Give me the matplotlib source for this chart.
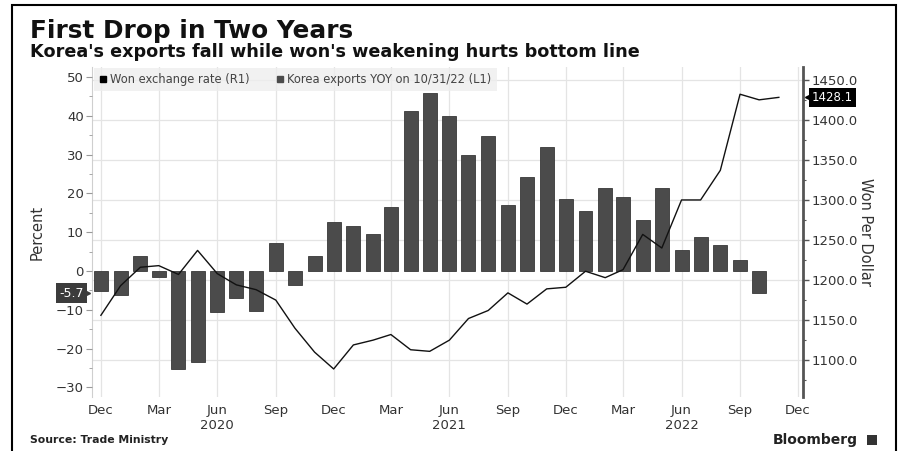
import matplotlib
matplotlib.use('Agg')
import matplotlib.pyplot as plt
from matplotlib.patches import Rectangle
from matplotlib.lines import Line2D
from matplotlib.ticker import MultipleLocator
from matplotlib.transforms import blended_transform_factory
import pandas as pd

# Korea exports YoY (%), monthly Dec 2019 - Oct 2022
exports_yoy = [-5.2,
               -6.1, 3.9, -1.6, -25.3, -23.5, -10.6, -6.9, -10.3, 7.3, -3.6, 3.9, 12.5,
               11.6, 9.5, 16.4, 41.3, 45.8, 40.0, 29.9, 34.9, 17.0, 24.3, 31.9, 18.6,
               15.5, 21.4, 19.1, 13.1, 21.5, 5.4, 8.8, 6.7, 2.8, -5.7]
# Won per dollar, monthly Dec 2019 - Nov 2022
won_rate = [1156,
            1193, 1216, 1218, 1207, 1237, 1208, 1194, 1188, 1175, 1140, 1110, 1089,
            1119, 1125, 1132, 1113, 1111, 1125, 1152, 1162, 1184, 1170, 1189, 1191,
            1211, 1203, 1213, 1257, 1240, 1300, 1300, 1337, 1432, 1425, 1428.1]
bar_dates = pd.date_range('2019-12-01', periods=len(exports_yoy), freq='MS')
line_dates = pd.date_range('2019-12-01', periods=len(won_rate), freq='MS')
tick_dates = pd.date_range('2019-12-01', '2022-12-01', freq='3MS')
pct_ticks = [-30, -20, -10, 0, 10, 20, 30, 40, 50]
won_ticks = [1100, 1150, 1200, 1250, 1300, 1350, 1400, 1450]

W, H = 899, 451
fig = plt.figure(figsize=(W / 100, H / 100), dpi=100)
fig.patch.set_facecolor('white')

txt = '#333333'
grid_c = '#e4e4e4'

# base axes: won scale + grid (pixels x 92..803, y 67..397)
ax = fig.add_axes([92 / W, 1 - 397 / H, (803 - 92) / W, (397 - 67) / H])
axp = ax.twinx()   # bars, percent on the left
axl = ax.twinx()   # line on top

ax.yaxis.tick_right()
ax.yaxis.set_label_position('right')
ax.set_ylim(1054, 1466)
ax.set_xlim(pd.Timestamp('2019-11-17'), pd.Timestamp('2022-12-09'))
ax.set_yticks(won_ticks)
ax.set_yticklabels([f'{v:.1f}' for v in won_ticks])
ax.yaxis.set_minor_locator(MultipleLocator(25))
ax.grid(True, axis='both', color=grid_c, lw=0.9)
ax.set_axisbelow(True)
ax.tick_params(axis='y', which='both', direction='out', colors='#555555', labelcolor=txt,
               labelsize=9.5, pad=2)
ax.tick_params(axis='y', which='major', length=4, width=1)
ax.tick_params(axis='y', which='minor', length=2.5, width=0.8)
ax.set_ylabel('Won Per Dollar', rotation=-90, labelpad=11, fontsize=10.5, color=txt)
for s in ['top', 'bottom']:
    ax.spines[s].set_visible(False)
ax.spines['left'].set_color('#cfcfcf')
ax.spines['right'].set_color('#555555')
ax.spines['right'].set_linewidth(2)

ax.set_xticks(tick_dates)
labels = []
for d in tick_dates:
    lab = d.strftime('%b')
    if d.month == 6:
        lab += '\n' + str(d.year)
    labels.append(lab)
ax.set_xticklabels(labels)
ax.tick_params(axis='x', length=0, labelsize=9.5, labelcolor=txt, pad=5)

# bars
axp.yaxis.tick_left()
axp.yaxis.set_label_position('left')
axp.set_ylim(-32.5, 52.6)
axp.bar(bar_dates, exports_yoy, width=22, color='#4b4b4b', edgecolor='#383838', lw=0.6)
axp.set_yticks(pct_ticks)
axp.yaxis.set_minor_locator(MultipleLocator(5))
axp.tick_params(axis='y', which='both', direction='out', colors='#999999', labelcolor=txt,
                labelsize=9.5, pad=2)
axp.tick_params(axis='y', which='major', length=4)
axp.tick_params(axis='y', which='minor', length=2)
axp.set_ylabel('Percent', fontsize=10.5, color=txt, labelpad=8)
for s in axp.spines.values():
    s.set_visible(False)

# line
axl.set_ylim(ax.get_ylim())
axl.plot(line_dates, won_rate, color='#111111', lw=1.0)
axl.set_yticks([])
for s in axl.spines.values():
    s.set_visible(False)

# value tags
tp = blended_transform_factory(axp.transAxes, axp.transData)
axp.text(-0.012, exports_yoy[-1], exports_yoy[-1], transform=tp, ha='right', va='center',
         fontsize=9, color='white',
         bbox=dict(boxstyle='square,pad=0.25', fc='#3c3c3c', ec='none'))
axp.plot([-0.009], [exports_yoy[-1]], marker='>', ms=6, color='#3c3c3c', transform=tp,
         clip_on=False)
tw = blended_transform_factory(axl.transAxes, axl.transData)
axl.text(1.012, won_rate[-1], f'{won_rate[-1]:.1f}', transform=tw, ha='left', va='center',
         fontsize=8.5, color='white',
         bbox=dict(boxstyle='square,pad=0.25', fc='black', ec='none'))
axl.plot([1.009], [won_rate[-1]], marker='<', ms=6, color='black', transform=tw,
         clip_on=False)

# legend
handles = [Line2D([], [], ls='none', marker='s', ms=5, color='black'),
           Line2D([], [], ls='none', marker='s', ms=5, color='#4b4b4b')]
leg = axl.legend(handles, ['Won exchange rate (R1)', 'Korea exports YOY on 10/31/22 (L1)'],
                 loc='upper left', bbox_to_anchor=(0.003, 0.997), ncol=2, fontsize=8.3,
                 frameon=True, fancybox=False, handlelength=0.6, handletextpad=0.3,
                 columnspacing=2.4, borderpad=0.45, borderaxespad=0)
leg.get_frame().set_facecolor('#eeeeee')
leg.get_frame().set_edgecolor('none')
for t in leg.get_texts():
    t.set_color('#444444')

# titles and footer
fig.text(30 / W, 1 - 38 / H, 'First Drop in Two Years', fontsize=17.8, weight='bold',
         color='#111111', va='baseline')
fig.text(30 / W, 1 - 57 / H, "Korea's exports fall while won's weakening hurts bottom line",
         fontsize=12.7, weight='bold', color='#111111', va='baseline')
fig.text(30 / W, 1 - 440 / H, 'Source: Trade Ministry', fontsize=7.8, weight='bold',
         color='#222222', va='center')
fig.text(858 / W, 1 - 440 / H, 'Bloomberg', fontsize=10, weight='semibold',
         color='#222222', va='center', ha='right')
fig.patches.append(Rectangle((867 / W, 1 - 445 / H), 10 / W, 10 / H, transform=fig.transFigure,
                             fc='#333333', ec='none'))

# outer border
fig.patches.append(Rectangle((12 / W, -0.05), (896 - 12) / W, 1.05 - 5 / H,
                             transform=fig.transFigure, fill=False, ec='black', lw=1.5))

fig.savefig('out.png', dpi=100)
